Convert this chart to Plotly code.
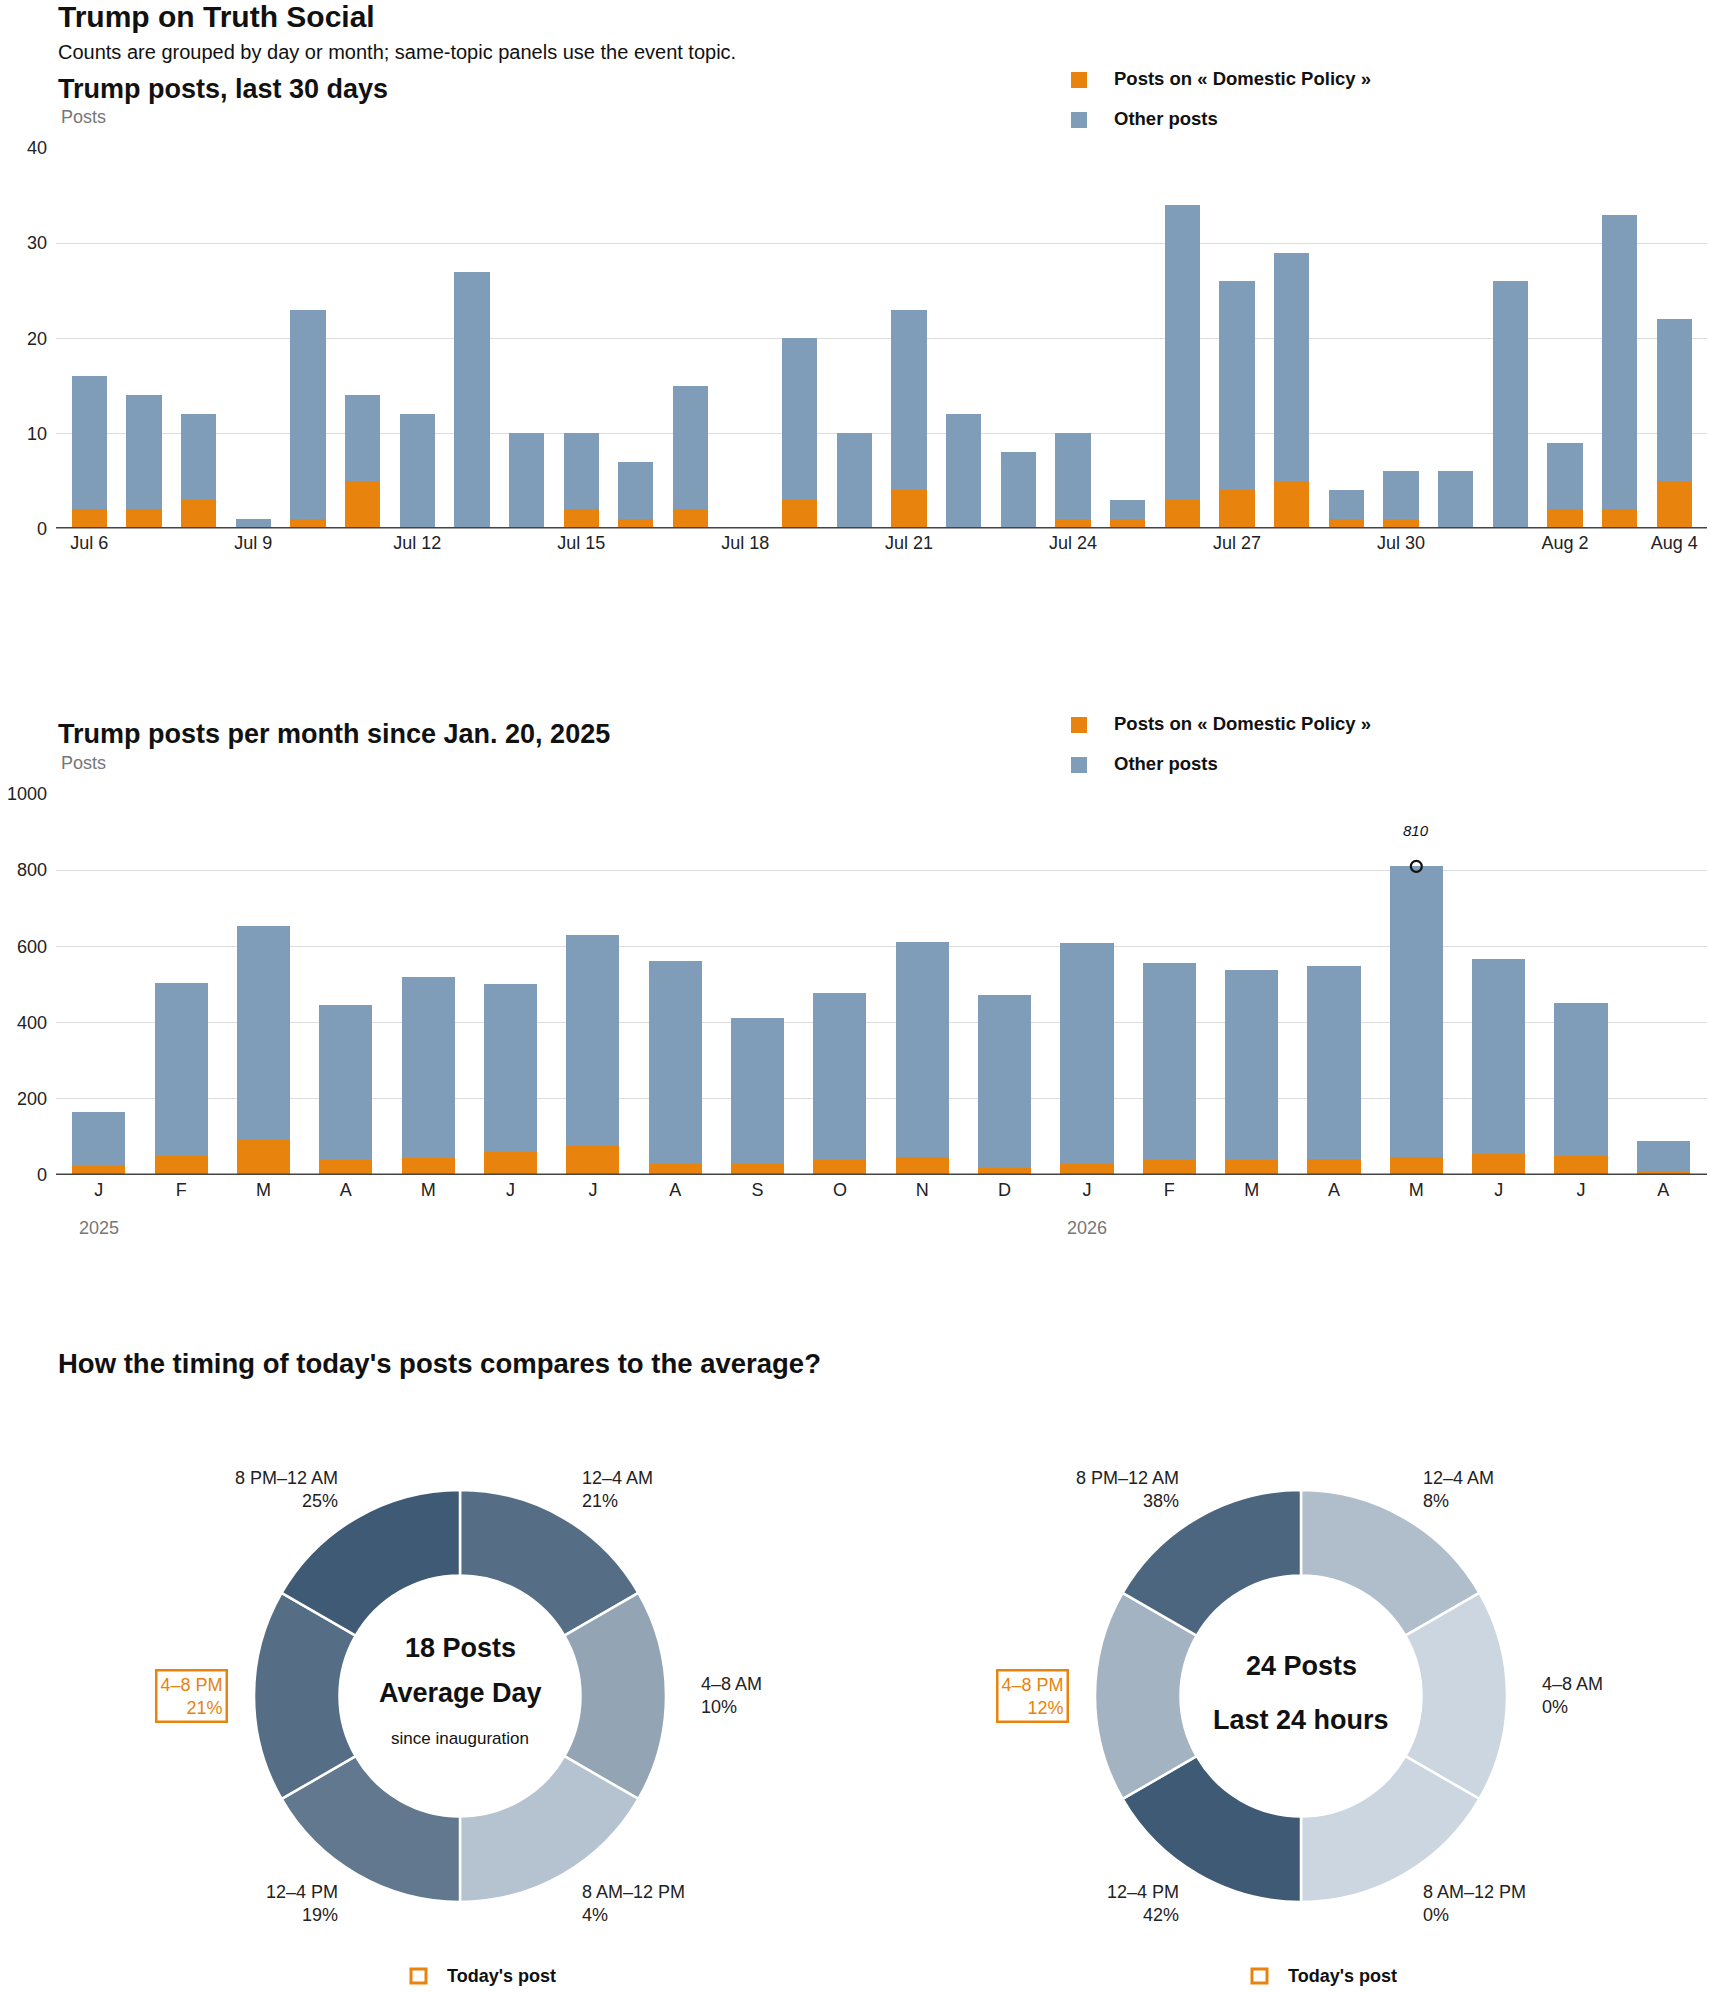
import plotly.graph_objects as go

# ---------------- DATA ----------------
days = ["Jul 6", "Jul 7", "Jul 8", "Jul 9", "Jul 10", "Jul 11", "Jul 12", "Jul 13", "Jul 14", "Jul 15",
        "Jul 16", "Jul 17", "Jul 18", "Jul 19", "Jul 20", "Jul 21", "Jul 22", "Jul 23", "Jul 24", "Jul 25",
        "Jul 26", "Jul 27", "Jul 28", "Jul 29", "Jul 30", "Jul 31", "Aug 1", "Aug 2", "Aug 3", "Aug 4"]
daily_total = [16, 14, 12, 1, 23, 14, 12, 27, 10, 10,
               7, 15, 0, 20, 10, 23, 12, 8, 10, 3,
               34, 26, 29, 4, 6, 6, 26, 9, 33, 22]
daily_domestic = [2, 2, 3, 0, 1, 5, 0, 0, 0, 2,
                  1, 2, 0, 3, 0, 4, 0, 0, 1, 1,
                  3, 4, 5, 1, 1, 0, 0, 2, 2, 5]
day_ticks = ["Jul 6", "Jul 9", "Jul 12", "Jul 15", "Jul 18", "Jul 21", "Jul 24", "Jul 27", "Jul 30", "Aug 2", "Aug 4"]

months = ["2025-01", "2025-02", "2025-03", "2025-04", "2025-05", "2025-06", "2025-07", "2025-08",
          "2025-09", "2025-10", "2025-11", "2025-12", "2026-01", "2026-02", "2026-03", "2026-04",
          "2026-05", "2026-06", "2026-07", "2026-08"]
month_labels = ["J", "F", "M", "A", "M", "J", "J", "A", "S", "O", "N", "D",
                "J", "F", "M", "A", "M", "J", "J", "A"]
monthly_total = [165, 504, 654, 447, 520, 500, 631, 562, 412, 478, 612, 473,
                 608, 557, 539, 549, 810, 568, 452, 89]
monthly_domestic = [24, 51, 92, 38, 45, 60, 76, 30, 30, 38, 47, 19,
                    30, 38, 38, 43, 47, 56, 51, 8]
year_labels = {"2025-01": "2025", "2026-01": "2026"}

blocks = ["12–4 AM", "4–8 AM", "8 AM–12 PM", "12–4 PM", "4–8 PM", "8 PM–12 AM"]
block_hours = [4, 4, 4, 4, 4, 4]
avg_share = [21, 10, 4, 19, 21, 25]
today_share = [8, 0, 0, 42, 12, 38]
todays_block = "4–8 PM"
avg_posts = 18
today_posts = 24

daily_other = [t - d for t, d in zip(daily_total, daily_domestic)]
monthly_other = [t - d for t, d in zip(monthly_total, monthly_domestic)]

# ---------------- STYLE ----------------
W, H = 1710, 1993
ORANGE = "#e8830e"
BLUE = "#7f9db9"
INK = "#111111"
TICK = "#222222"
GREY = "#777777"
FONT = "'Liberation Sans', Arial, sans-serif"

# the photographed page shows the figure slightly inset vertically; compensate
Y_OFF, Y_SCALE = 9.0, 0.990


def px(x):
    return x / W


def py(y):
    yf = (y - Y_OFF) / Y_SCALE
    yf = min(max(yf, 0), H)
    return 1 - yf / H


def shade(v, vmax):
    lo = (203, 214, 224)
    hi = (63, 90, 117)
    t = 0 if vmax == 0 else v / vmax
    c = [round(a + (b - a) * t) for a, b in zip(lo, hi)]
    return "rgb(%d,%d,%d)" % tuple(c)


fig = go.Figure()

fig.add_bar(x=days, y=daily_domestic, marker=dict(color=ORANGE, line=dict(width=0)),
            name="Posts on « Domestic Policy »", xaxis="x", yaxis="y", hoverinfo="x+y")
fig.add_bar(x=days, y=daily_other, marker=dict(color=BLUE, line=dict(width=0)),
            name="Other posts", xaxis="x", yaxis="y", hoverinfo="x+y")
fig.add_bar(x=months, y=monthly_domestic, marker=dict(color=ORANGE, line=dict(width=0)),
            name="Posts on « Domestic Policy »", xaxis="x2", yaxis="y2", hoverinfo="x+y")
fig.add_bar(x=months, y=monthly_other, marker=dict(color=BLUE, line=dict(width=0)),
            name="Other posts", xaxis="x2", yaxis="y2", hoverinfo="x+y")

imax = max(range(len(monthly_total)), key=lambda i: monthly_total[i])
fig.add_scatter(x=[months[imax]], y=[monthly_total[imax]], mode="markers",
                marker=dict(symbol="circle-open", size=11, color="#111", line=dict(width=2.2, color="#111")),
                xaxis="x2", yaxis="y2", hoverinfo="skip")

R = 206
donuts = [dict(cx=460, share=avg_share), dict(cx=1301, share=today_share)]
cy = 1695
for d in donuts:
    vmax = max(d["share"])
    fig.add_trace(go.Pie(
        values=block_hours, labels=blocks, sort=False, direction="clockwise", rotation=0,
        hole=0.585, textinfo="none", hoverinfo="label",
        marker=dict(colors=[shade(v, vmax) for v in d["share"]], line=dict(color="white", width=2.5)),
        domain=dict(x=[px(d["cx"] - R), px(d["cx"] + R)], y=[py(cy + R), py(cy - R)]),
        showlegend=False,
    ))

tickfont = dict(family=FONT, size=18, color=TICK)
axis_x = dict(type="category", showgrid=False, zeroline=False, showline=False, ticks="",
              tickfont=tickfont, fixedrange=True)
axis_y = dict(showgrid=True, gridcolor="#dddddd", gridwidth=1, zeroline=False, showline=False,
              ticks="", tickfont=tickfont, ticklabelstandoff=8, fixedrange=True)

fig.update_layout(
    width=W, height=H,
    margin=dict(l=0, r=0, t=0, b=0),
    paper_bgcolor="white", plot_bgcolor="white",
    barmode="stack",
    showlegend=False,
    font=dict(family=FONT, color=TICK),
    xaxis=dict(axis_x, domain=[px(56), px(1707)], anchor="y", range=[-0.61, len(days) - 0.4],
               tickvals=day_ticks, ticktext=day_ticks, ticklabelstandoff=2),
    yaxis=dict(axis_y, domain=[py(527.5), py(147)], anchor="x", range=[0, 40], tickvals=[0, 10, 20, 30, 40]),
    xaxis2=dict(axis_x, domain=[px(56), px(1707)], anchor="y2", range=[-0.52, len(months) - 0.47],
                tickvals=months, ticktext=month_labels, ticklabelstandoff=2),
    yaxis2=dict(axis_y, domain=[py(1174), py(793)], anchor="x2", range=[0, 1000],
                tickvals=[0, 200, 400, 600, 800, 1000]),
    bargap=0.355,
)

shapes = []
annotations = []


def text(x, y, s, size=18, color=TICK, bold=False, xanchor="left", align="left",
         style="normal", **kw):
    f = dict(family=FONT, size=size, color=color, style=style)
    if bold:
        f["weight"] = "bold"
    a = dict(x=px(x), y=py(y), xref="paper", yref="paper", text=s, showarrow=False,
             xanchor=xanchor, yanchor="middle", align=align, font=f)
    a.update(kw)
    annotations.append(a)


text(56, 16, "Trump on Truth Social", size=30, color=INK, bold=True)
text(56, 51, "Counts are grouped by day or month; same-topic panels use the event topic.", size=20, color=INK)
text(56, 88, "Trump posts, last 30 days", size=27, color=INK, bold=True)
text(59, 116, "Posts", size=18, color=GREY)
text(56, 733, "Trump posts per month since Jan. 20, 2025", size=27, color=INK, bold=True)
text(59, 762, "Posts", size=18, color=GREY)
text(56, 1363, "How the timing of today's posts compares to the average?", size=27.5, color=INK, bold=True)

for top in (79, 724):
    for k, (lab, col) in enumerate([("Posts on « Domestic Policy »", ORANGE), ("Other posts", BLUE)]):
        yc = top + k * 40
        shapes.append(dict(type="rect", xref="paper", yref="paper", x0=px(1071), x1=px(1087),
                           y0=py(yc + 8), y1=py(yc - 8), fillcolor=col, line=dict(width=0)))
        text(1112, yc - 1, lab, size=18.5, color=INK, bold=True)

for ya in ("y", "y2"):
    xa = "x" if ya == "y" else "x2"
    shapes.append(dict(type="line", xref=xa + " domain", yref=ya, x0=0, x1=1, y0=0, y1=0,
                       line=dict(color="#444444", width=3)))

for m, lab in year_labels.items():
    annotations.append(dict(x=m, y=py(1227), xref="x2", yref="paper", text=lab, showarrow=False,
                            xanchor="center", yanchor="middle",
                            font=dict(family=FONT, size=18, color=GREY)))

annotations.append(dict(x=months[imax], y=monthly_total[imax], xref="x2", yref="y2",
                        text=str(monthly_total[imax]), showarrow=False, yshift=36,
                        xanchor="center", yanchor="middle",
                        font=dict(family=FONT, size=15, color=INK, style="italic")))

offsets = [(120, -206, "left"), (239, 0, "left"), (120, 208, "left"),
           (-120, 208, "right"), (-239, 0, "right"), (-120, -206, "right")]
leg_y = 1975
for d, centre in zip(donuts, [("<b>%d Posts</b>" % avg_posts, "<b>Average Day</b>", "since inauguration"),
                              ("<b>%d Posts</b>" % today_posts, "<b>Last 24 hours</b>", None)]):
    cx = d["cx"]
    for lab, val, (dx, dy, anc) in zip(blocks, d["share"], offsets):
        s = "%s<br>%d%%" % (lab, val)
        if lab == todays_block:
            annotations.append(dict(x=px(cx + dx + 7), y=py(cy + dy), xref="paper", yref="paper", text=s,
                                    showarrow=False, xanchor="right", yanchor="middle", align="right",
                                    bordercolor=ORANGE, borderwidth=2.5, borderpad=3,
                                    font=dict(family=FONT, size=18, color=ORANGE)))
        else:
            text(cx + dx, cy + dy, s, size=18, xanchor=anc, align=anc)
    if centre[2] is not None:
        text(cx, cy - 48, centre[0], size=27, color=INK, xanchor="center", align="center")
        text(cx, cy - 3, centre[1], size=27, color=INK, xanchor="center", align="center")
        text(cx, cy + 43, centre[2], size=17, color=INK, xanchor="center", align="center")
    else:
        text(cx, cy - 30, centre[0], size=27, color=INK, xanchor="center", align="center")
        text(cx, cy + 24, centre[1], size=27, color=INK, xanchor="center", align="center")
    shapes.append(dict(type="rect", xref="paper", yref="paper", x0=px(cx - 49), x1=px(cx - 34),
                       y0=py(leg_y + 7), y1=py(leg_y - 7), fillcolor="white",
                       line=dict(color=ORANGE, width=3)))
    text(cx - 15, leg_y, "Today's post", size=18, color=INK, bold=True)

fig.update_layout(shapes=shapes, annotations=annotations)

css = ("var s='margin:0;padding:0;overflow:hidden;width:%dpx;height:%dpx;';"
       "document.documentElement.style.cssText=s;document.body.style.cssText=s;" % (W, H))
fig.write_html("out.html", config={"displayModeBar": False}, post_script=css)
